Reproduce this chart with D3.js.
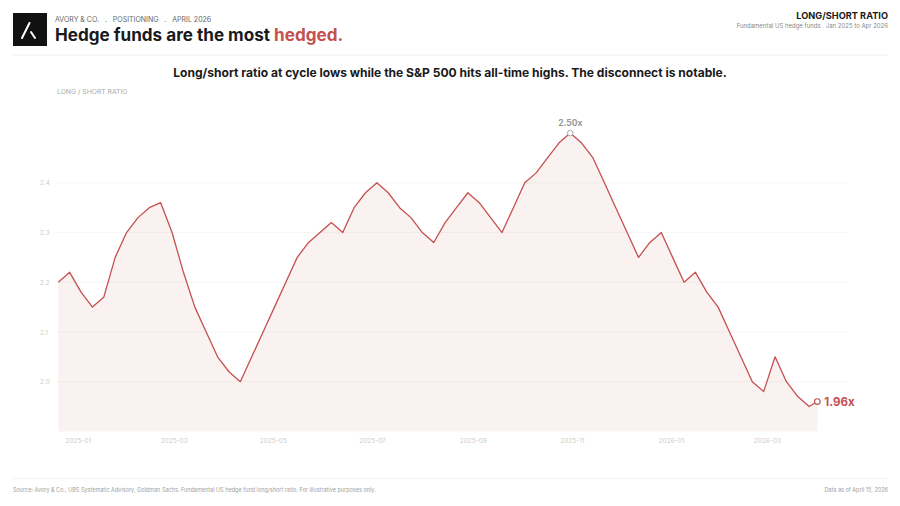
<!DOCTYPE html>
<html><head><meta charset="utf-8">
<script src="https://cdn.jsdelivr.net/npm/d3@7/dist/d3.min.js"></script>
<style>
body{margin:0;background:#fff;}
svg{display:block;font-family:Inter,"Noto Sans",sans-serif;}
</style>
</head><body>
<svg id="chart" width="900" height="506"></svg>
<script>
// ---- data ----
const dates = [
 "2025-01-03","2025-01-10","2025-01-17","2025-01-24","2025-01-31",
 "2025-02-07","2025-02-14","2025-02-21","2025-02-28",
 "2025-03-07","2025-03-14","2025-03-21","2025-03-28",
 "2025-04-04","2025-04-11","2025-04-18","2025-04-25",
 "2025-05-02","2025-05-09","2025-05-16","2025-05-23","2025-05-30",
 "2025-06-06","2025-06-13","2025-06-20","2025-06-27",
 "2025-07-04","2025-07-11","2025-07-18","2025-07-25",
 "2025-08-01","2025-08-08","2025-08-15","2025-08-22","2025-08-29",
 "2025-09-05","2025-09-12","2025-09-19","2025-09-26",
 "2025-10-03","2025-10-10","2025-10-17","2025-10-24","2025-10-31",
 "2025-11-07","2025-11-14","2025-11-21","2025-11-28",
 "2025-12-05","2025-12-12","2025-12-19","2025-12-26",
 "2026-01-02","2026-01-09","2026-01-16","2026-01-23","2026-01-30",
 "2026-02-06","2026-02-13","2026-02-20","2026-02-27",
 "2026-03-06","2026-03-13","2026-03-20","2026-03-27",
 "2026-04-03","2026-04-10","2026-04-15"
];
const ratio = [
 2.20,2.22,2.18,2.15,2.17,
 2.25,2.30,2.33,2.35,
 2.36,2.30,2.22,2.15,
 2.10,2.05,2.02,2.00,
 2.05,2.10,2.15,2.20,2.25,
 2.28,2.30,2.32,2.30,
 2.35,2.38,2.40,2.38,
 2.35,2.33,2.30,2.28,2.32,
 2.35,2.38,2.36,2.33,
 2.30,2.35,2.40,2.42,2.45,
 2.48,2.50,2.48,2.45,
 2.40,2.35,2.30,2.25,
 2.28,2.30,2.25,2.20,2.22,
 2.18,2.15,2.10,2.05,
 2.00,1.98,2.05,2.00,
 1.97,1.95,1.96
];
const yTicks = [2.0, 2.1, 2.2, 2.3, 2.4];
const xTickDates = ["2025-01-15","2025-03-15","2025-05-15","2025-07-15","2025-09-15","2025-11-15","2026-01-15","2026-03-15"];
const xTickLabels = ["2025-01","2025-03","2025-05","2025-07","2025-09","2025-11","2026-01","2026-03"];
const yDomain = [1.9, 2.5];

// ---- setup ----
const RED = "#c4504f";
const parse = d3.utcParse("%Y-%m-%d");
const data = dates.map((d, i) => ({date: parse(d), v: ratio[i]}));
const svg = d3.select("#chart");

const x = d3.scaleUtc()
  .domain(d3.extent(data, d => d.date))
  .range([58.3, 817.3]);
const y = d3.scaleLinear().domain(yDomain).range([431.4, 133.1]);

// ---- header ----
const logo = svg.append("g");
logo.append("rect").attr("x", 13).attr("y", 13).attr("width", 34).attr("height", 33).attr("fill", "#111");
logo.append("line").attr("x1", 22).attr("y1", 38).attr("x2", 29.5).attr("y2", 23)
  .attr("stroke", "#fff").attr("stroke-width", 2).attr("stroke-linecap", "round");
logo.append("line").attr("x1", 31).attr("y1", 32).attr("x2", 35).attr("y2", 38)
  .attr("stroke", "#fff").attr("stroke-width", 2).attr("stroke-linecap", "round");

svg.append("text").attr("x", 55).attr("y", 21.5)
  .attr("font-size", 7).attr("fill", "#666")
  .style("white-space", "pre")
  .text("AVORY & CO.   .   POSITIONING   .   APRIL 2026");

const title = svg.append("text").attr("x", 55).attr("y", 41)
  .attr("font-size", 17.1).attr("font-weight", 700).attr("fill", "#1a1a1a");
title.append("tspan").text("Hedge funds are the most ");
title.append("tspan").attr("fill", RED).text("hedged.");

svg.append("text").attr("x", 888).attr("y", 19).attr("text-anchor", "end")
  .attr("font-size", 9.2).attr("font-weight", 700).attr("fill", "#1a1a1a")
  .text("LONG/SHORT RATIO");
svg.append("text").attr("x", 888).attr("y", 27.5).attr("text-anchor", "end")
  .attr("font-size", 6).attr("fill", "#888")
  .text("Fundamental US hedge funds . Jan 2025 to Apr 2026");

svg.append("line").attr("x1", 13).attr("x2", 888).attr("y1", 55).attr("y2", 55)
  .attr("stroke", "#eeeeee").attr("stroke-width", 1);

svg.append("text").attr("x", 450).attr("y", 76.5).attr("text-anchor", "middle")
  .attr("font-size", 12.05).attr("font-weight", 700).attr("fill", "#1a1a1a")
  .text("Long/short ratio at cycle lows while the S&P 500 hits all-time highs. The disconnect is notable.");

svg.append("text").attr("x", 57).attr("y", 94).attr("font-size", 6.8).attr("fill", "#aaa")
  .text("LONG / SHORT RATIO");

// ---- grid ----
svg.append("g").selectAll("line").data(yTicks).join("line")
  .attr("x1", 58).attr("x2", 847)
  .attr("y1", d => y(d)).attr("y2", d => y(d))
  .attr("stroke", "#f6f6f6").attr("stroke-width", 1);

// ---- area & line ----
const area = d3.area().x(d => x(d.date)).y0(y(yDomain[0])).y1(d => y(d.v)).curve(d3.curveLinear);
svg.append("path").datum(data).attr("d", area).attr("fill", RED).attr("fill-opacity", 0.08);

const line = d3.line().x(d => x(d.date)).y(d => y(d.v)).curve(d3.curveLinear);
svg.append("path").datum(data).attr("d", line).attr("fill", "none")
  .attr("stroke", RED).attr("stroke-width", 1.3).attr("stroke-linejoin", "round");

// ---- axes ----
const yAxis = d3.axisLeft(y).tickValues(yTicks).tickFormat(d3.format(".1f")).tickSize(0);
const gy = svg.append("g").attr("transform", "translate(40,0)").call(yAxis);
gy.select(".domain").remove();
gy.selectAll("text").attr("text-anchor", "start").attr("x", 0).attr("dx", 0)
  .attr("font-size", 6.5).attr("fill", "#cccccc").attr("font-family", "Inter, sans-serif");

const xAxis = d3.axisBottom(x).tickValues(xTickDates.map(parse))
  .tickFormat((d, i) => xTickLabels[i]).tickSize(0);
const gx = svg.append("g").attr("transform", "translate(0,435.5)").call(xAxis);
gx.select(".domain").remove();
gx.selectAll("text").attr("font-size", 6.5).attr("fill", "#cccccc").attr("font-family", "Inter, sans-serif");

// ---- annotations ----
const peak = data.reduce((a, b) => (b.v > a.v ? b : a));
const last = data[data.length - 1];
svg.append("circle").attr("cx", x(peak.date)).attr("cy", y(peak.v)).attr("r", 2.8)
  .attr("fill", "#fff").attr("stroke", "#aaa").attr("stroke-width", 1);
svg.append("text").attr("x", x(peak.date)).attr("y", y(peak.v) - 7.5).attr("text-anchor", "middle")
  .attr("font-size", 8.5).attr("font-weight", 700).attr("fill", "#999")
  .text(d3.format(".2f")(peak.v) + "x");

svg.append("circle").attr("cx", x(last.date)).attr("cy", y(last.v)).attr("r", 2.8)
  .attr("fill", "#fff").attr("stroke", RED).attr("stroke-width", 1.2);
svg.append("text").attr("x", x(last.date) + 7).attr("y", y(last.v) + 4.3)
  .attr("font-size", 11.5).attr("font-weight", 700).attr("fill", RED)
  .text(d3.format(".2f")(last.v) + "x");

// ---- footer ----
svg.append("line").attr("x1", 13).attr("x2", 888).attr("y1", 478.5).attr("y2", 478.5)
  .attr("stroke", "#f3f3f3").attr("stroke-width", 1);
svg.append("text").attr("x", 13).attr("y", 492).attr("font-size", 5.5).attr("fill", "#a0a0a0")
  .text("Source: Avory & Co., UBS Systematic Advisory, Goldman Sachs. Fundamental US hedge fund long/short ratio. For illustrative purposes only.");
svg.append("text").attr("x", 888).attr("y", 492).attr("text-anchor", "end").attr("font-size", 5.5).attr("fill", "#a0a0a0")
  .text("Data as of April 15, 2026");
</script>
</body></html>
